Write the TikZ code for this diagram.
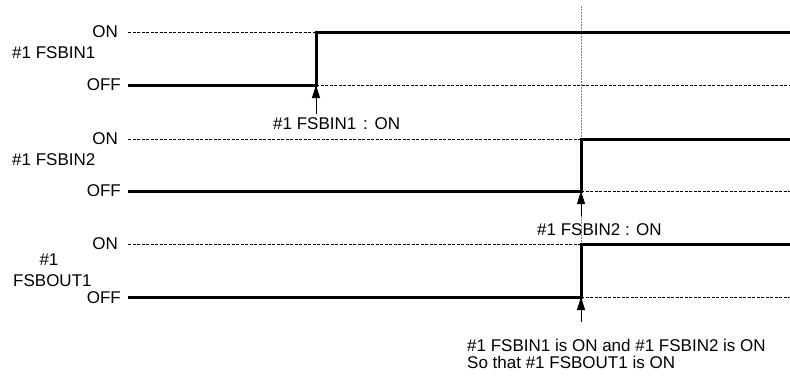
\documentclass[tikz,border=0pt]{standalone}
\usepackage{fontspec}
\setmainfont{Liberation Sans}
\usetikzlibrary{arrows.meta}

\begin{document}
\begin{tikzpicture}[x=1pt,y=-1pt,font=\fontsize{17}{16.5}\selectfont,
  lvl/.style={anchor=east,inner sep=0pt},
  txt/.style={anchor=west,inner sep=0pt},
  sig/.style={line width=3pt,line join=miter},
  guide/.style={line width=0.6pt,dash pattern=on 3pt off 1.5pt},
  trig/.style={line width=1pt,arrows={-Triangle[length=13pt,width=8pt]}}]
  \useasboundingbox (0,0) rectangle (790,381);
  % time marker
  \coordinate (m0) at (581,6); \coordinate (m1) at (581,244);
  \draw[gray,line width=0.8pt,dash pattern=on 2pt off 1pt] (m0) -- (m1);
  % #1 FSBIN1
  \node[lvl] (on1) at (118,32) {ON};
  \node[lvl] (off1) at (121,85) {OFF};
  \node[txt] (name1) at (12,53) {\#1 FSBIN1};
  \coordinate (s1a) at (128,85); \coordinate (s1b) at (316,85);
  \coordinate (s1c) at (316,32); \coordinate (s1d) at (790,32);
  \draw[guide] (128,32) -- (s1c);
  \draw[guide] (s1b) -- (790,85);
  \draw[sig] (s1a) -- (s1b) -- (s1c) -- (s1d);
  \coordinate (t1) at (316,114);
  \draw[trig] (t1) -- (s1b);
  \node[txt] (ev1) at (273,124) {\#1 FSBIN1\hspace{0.4em}:\hspace{0.4em}ON};
  % #1 FSBIN2
  \node[lvl] (on2) at (118,139) {ON};
  \node[lvl] (off2) at (121,191) {OFF};
  \node[txt] (name2) at (12,160) {\#1 FSBIN2};
  \coordinate (s2a) at (128,191); \coordinate (s2b) at (581,191);
  \coordinate (s2c) at (581,139); \coordinate (s2d) at (790,139);
  \draw[guide] (128,139) -- (s2c);
  \draw[guide] (s2b) -- (790,191);
  \draw[sig] (s2a) -- (s2b) -- (s2c) -- (s2d);
  \coordinate (t2) at (581,216);
  \draw[trig] (t2) -- (s2b);
  \node[txt] (ev2) at (537,230) {\#1 FSBIN2 : ON};
  % #1 FSBOUT1
  \node[lvl] (on3) at (118,244) {ON};
  \node[lvl] (off3) at (121,298) {OFF};
  \node (name3a) at (49,260) {\#1};
  \node[txt] (name3b) at (13,281) {FSBOUT1};
  \coordinate (s3a) at (128,297); \coordinate (s3b) at (581,297);
  \coordinate (s3c) at (581,244); \coordinate (s3d) at (790,244);
  \draw[guide] (128,244) -- (s3c);
  \draw[guide] (s3b) -- (790,297);
  \draw[sig] (s3a) -- (s3b) -- (s3c) -- (s3d);
  \coordinate (t3) at (581,322);
  \draw[trig] (t3) -- (s3b);
  \node[anchor=north west,align=left,inner sep=0pt] (note) at (467,339)
    {\#1 FSBIN1 is ON and \#1 FSBIN2 is ON\\So that \#1 FSBOUT1 is ON};
\end{tikzpicture}
\end{document}
